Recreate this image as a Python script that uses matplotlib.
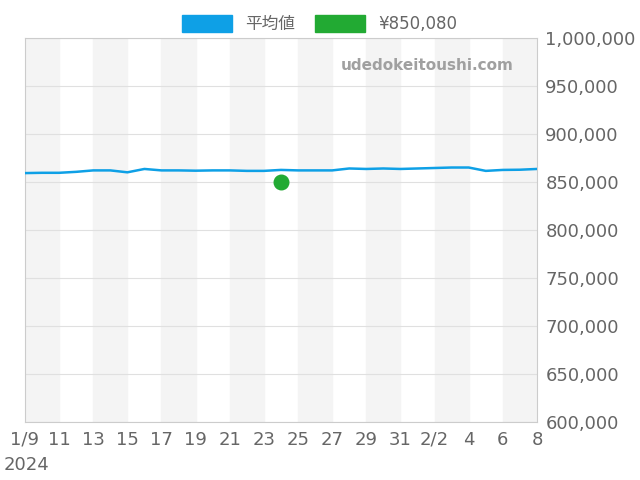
import datetime as dt
import matplotlib
matplotlib.use("Agg")
import matplotlib.pyplot as plt
import matplotlib.dates as mdates
from matplotlib.patches import Patch

plt.rcParams['font.family'] = ['DejaVu Sans', 'Noto Sans CJK JP']

start = dt.date(2024, 1, 9)
dates = [start + dt.timedelta(days=i) for i in range(31)]
avg = [859700, 860000, 860000, 861000, 862500, 862500, 860500, 864000, 862500, 862500,
       862200, 862500, 862500, 862000, 862000, 863000, 862500, 862500, 862500, 864500,
       864000, 864500, 864000, 864500, 865000, 865500, 865500, 862000, 863000, 863200, 864000]
point_date = dt.date(2024, 1, 24)
point_val = 850080

fig = plt.figure(figsize=(6.4, 4.8), dpi=100)
ax = fig.add_axes([0.039, 0.12, 0.8, 0.8])

# alternating shaded bands, two days wide
for i in range(0, 30, 4):
    ax.axvspan(mdates.date2num(start + dt.timedelta(days=i)),
               mdates.date2num(start + dt.timedelta(days=i + 2)),
               color='#f4f4f4', zorder=0)

ax.plot(dates, avg, color='#0ea0e6', lw=1.8, zorder=3)
ax.scatter([point_date], [point_val], s=110, color='#22aa33', zorder=4)

ax.set_xlim(dates[0], dates[-1])
ax.set_ylim(600000, 1000000)
ax.yaxis.tick_right()
ax.set_yticks(range(600000, 1000001, 50000))
ax.yaxis.set_major_formatter(matplotlib.ticker.FuncFormatter(lambda v, p: f"{int(v):,}"))
ticks = [start + dt.timedelta(days=i) for i in range(0, 31, 2)]
labels = []
for d in ticks:
    if d == start:
        labels.append("1/9")
    elif d.day == 2 and d.month == 2:
        labels.append("2/2")
    else:
        labels.append(str(d.day))
ax.set_xticks(ticks)
ax.set_xticklabels(labels)
ax.tick_params(labelsize=13, colors='#666666', length=0, pad=6)
fig.text(0.005, 0.012, "2024", fontsize=13, color='#666666', ha='left', va='bottom')
ax.grid(axis='y', color='#e0e0e0', lw=0.8)
for s in ax.spines.values():
    s.set_color('#cccccc')

ax.text(0.955, 0.93, "udedokeitoushi.com", transform=ax.transAxes, ha='right', va='center',
        fontsize=11, fontweight='bold', color='#a0a0a0')

handles = [Patch(color='#0ea0e6'), Patch(color='#22aa33')]
fig.legend(handles, ["平均値", "¥850,080"], loc='upper center', bbox_to_anchor=(0.5, 1.0),
           ncol=2, frameon=False, fontsize=12, labelcolor='#666666',
           handlelength=3, handleheight=1.2, columnspacing=1.2)

fig.savefig("out.png")
